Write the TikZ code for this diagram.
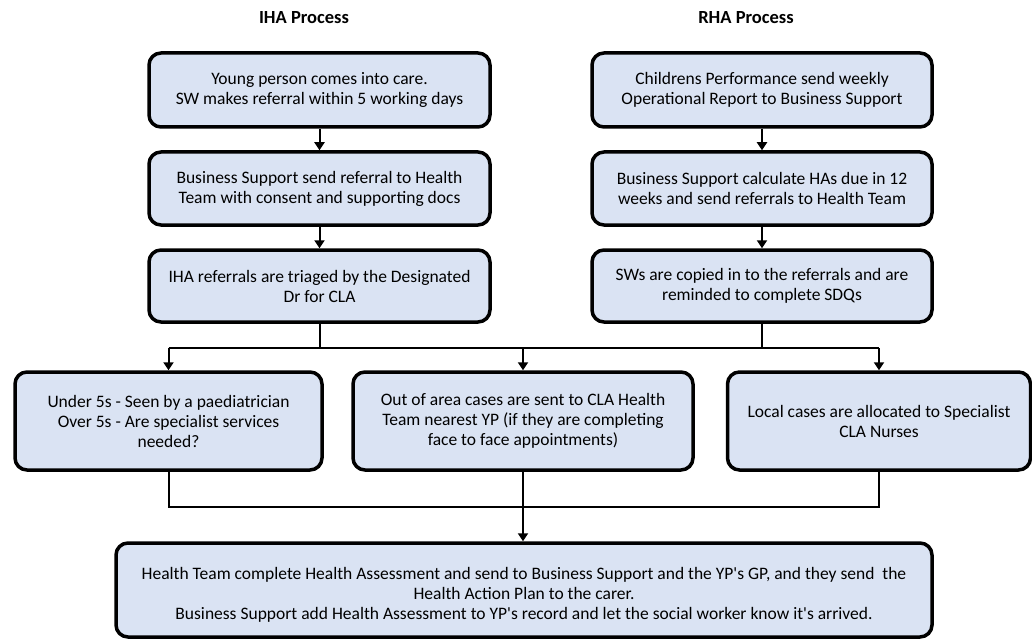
\documentclass[tikz,border=0pt]{standalone}
\usepackage{fontspec}
\setmainfont{Carlito}
\usetikzlibrary{arrows.meta}
\definecolor{boxfill}{RGB}{218,227,243}
\tikzset{
  procbox/.style={draw=black, line width=3.5pt, fill=boxfill, rounded corners=12pt,
    align=center, inner sep=0pt, font=\fontsize{17.5}{20}\selectfont},
  conn/.style={draw=black, line width=2pt},
  arr/.style={conn, -{Triangle[width=10pt,length=8pt]}},
  title/.style={font=\fontsize{18.5}{22}\selectfont\bfseries}
}
\begin{document}
\begin{tikzpicture}[x=1pt, y=-1pt]
\useasboundingbox (0,0) rectangle (1032,639);
\node[title] (tI) at (304,18) {IHA Process};
\node[title] (tR) at (746,18) {RHA Process};

\node[procbox, minimum width=341pt, minimum height=74pt] (L1) at (319.5,90) {Young person comes into care.\\SW makes referral within 5 working days};
\node[procbox, minimum width=341pt, minimum height=73pt] (L2) at (319.5,188.5) {Business Support send referral to Health\\Team with consent and supporting docs};
\node[procbox, minimum width=341pt, minimum height=72pt] (L3) at (319.5,286) {IHA referrals are triaged by the Designated\\Dr for CLA};

\node[procbox, minimum width=340pt, minimum height=74pt] (R1) at (762,90) {Childrens Performance send weekly\\Operational Report to Business Support};
\node[procbox, minimum width=340pt, minimum height=73pt] (R2) at (762,188.5) {Business Support calculate HAs due in 12\\weeks and send referrals to Health Team};
\node[procbox, minimum width=340pt, minimum height=72pt] (R3) at (762,286) {SWs are copied in to the referrals and are\\reminded to complete SDQs};

\node[procbox, minimum width=307pt, minimum height=98pt] (B1) at (168.5,421) {Under 5s - Seen by a paediatrician\\Over 5s - Are specialist services\\needed?};
\node[procbox, minimum width=340pt, minimum height=98pt] (B2) at (523,421) {Out of area cases are sent to CLA Health\\Team nearest YP (if they are completing\\face to face appointments)};
\node[procbox, minimum width=303pt, minimum height=98pt] (B3) at (879,421) {Local cases are allocated to Specialist\\CLA Nurses};

\node[procbox, minimum width=816pt, minimum height=94pt] (F) at (524,590) {\rule{0pt}{22.5pt}Health Team complete Health Assessment and send to Business Support and the YP\textquotesingle s GP, and they send\ \ the\\Health Action Plan to the carer.\\Business Support add Health Assessment to YP\textquotesingle s record and let the social worker know it\textquotesingle s arrived.};

\draw[arr] (L1) -- (L2);
\draw[arr] (L2) -- (L3);
\draw[arr] (R1) -- (R2);
\draw[arr] (R2) -- (R3);

\coordinate (hy) at (0,348);
\draw[conn] (L3.south) -- (L3.south |- hy);
\draw[conn] (R3.south) -- (R3.south |- hy);
\draw[conn] (B1.north |- hy) -- (B3.north |- hy);
\draw[arr] (B1.north |- hy) -- (B1.north);
\draw[arr] (B2.north |- hy) -- (B2.north);
\draw[arr] (B3.north |- hy) -- (B3.north);

\coordinate (ly) at (0,507);
\draw[conn] (B1.south) -- (B1.south |- ly) -- (B3.south |- ly) -- (B3.south);
\draw[arr] (B2.south) -- (F.north -| B2.south);
\end{tikzpicture}
\end{document}
